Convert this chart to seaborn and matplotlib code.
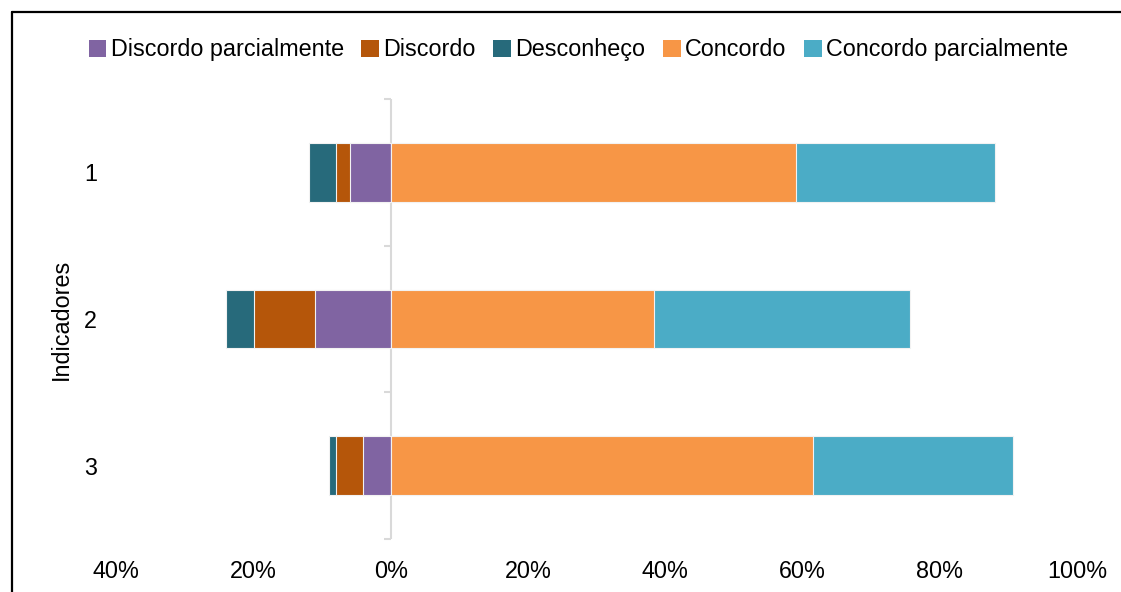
import matplotlib
matplotlib.use("Agg")
import matplotlib.pyplot as plt
from matplotlib.lines import Line2D
from matplotlib.patches import Patch
import seaborn as sns
import pandas as pd

# Survey responses per indicator (percent of respondents)
indicadores = ["1", "2", "3"]
discordo_parcialmente = [6, 11, 4]
discordo = [2, 9, 4]
desconheco = [4, 4, 1]
concordo = [59, 38.3, 61.5]
concordo_parcialmente = [29, 37.3, 29.2]

series_names = ["Discordo parcialmente", "Discordo", "Desconheço",
                "Concordo", "Concordo parcialmente"]
colors = {
    "Discordo parcialmente": "#8064A2",
    "Discordo": "#B5560A",
    "Desconheço": "#276A7B",
    "Concordo": "#F79646",
    "Concordo parcialmente": "#4BACC6",
}
x_ticks = [-40, -20, 0, 20, 40, 60, 80, 100]

sns.set_theme(style="white")
plt.rcParams["font.family"] = ["Liberation Sans", "DejaVu Sans"]
plt.rcParams["text.color"] = "black"
FS = 16.8

df = pd.DataFrame({
    "Indicador": indicadores,
    "dp": discordo_parcialmente,
    "d": discordo,
    "desc": desconheco,
    "c": concordo,
    "cp": concordo_parcialmente,
})
# Cumulative extents so stacked segments can be layered from the outside in
df["neg3"] = -(df["dp"] + df["d"] + df["desc"])
df["neg2"] = -(df["dp"] + df["d"])
df["neg1"] = -df["dp"]
df["pos2"] = df["c"] + df["cp"]
df["pos1"] = df["c"]

fig = plt.figure(figsize=(11.21, 5.92), dpi=100)
ax = fig.add_axes([116.4 / 1121, 53 / 592, 960.6 / 1121, 440 / 592])

layers = [
    ("neg3", "Desconheço"),
    ("neg2", "Discordo"),
    ("neg1", "Discordo parcialmente"),
    ("pos2", "Concordo parcialmente"),
    ("pos1", "Concordo"),
]
for col, name in layers:
    sns.barplot(data=df, x=col, y="Indicador", orient="h", color=colors[name],
                width=0.4, saturation=1, edgecolor="#f2f2f2", linewidth=0.8,
                ax=ax)

ax.set_xlim(-40, 100)
ax.set_ylim(2.5, -0.5)
ax.set_xticks(x_ticks)
ax.set_xticklabels([f"{abs(v)}%" for v in x_ticks], fontsize=FS, color="#000000")
ax.tick_params(axis="x", length=0, pad=15)
ax.tick_params(axis="y", length=0, pad=14, labelsize=FS, labelcolor="#000000")
ax.set_xlabel("")
ax.set_ylabel("Indicadores", fontsize=FS, color="#000000", labelpad=8)
for s in ax.spines.values():
    s.set_visible(False)

# Category axis drawn at zero with small separators between categories
ax.axvline(0, color="#d9d9d9", lw=1.5, zorder=0.5)
ax.hlines([-0.5, 0.5, 1.5, 2.5], -1.05, 0, color="#d9d9d9", lw=1.5,
          zorder=0.5, clip_on=False)

handles = [Patch(facecolor=colors[n], edgecolor="none") for n in series_names]
fig.legend(handles, series_names, loc="center", ncol=5,
           bbox_to_anchor=(0.516, 0.916), frameon=False, fontsize=FS,
           handlelength=0.75, handleheight=0.75, handletextpad=0.2,
           columnspacing=0.75, labelcolor="black")

# Chart frame
fig.add_artist(Line2D([12 / 1121, 12 / 1121], [0, 1 - 12 / 592],
                      transform=fig.transFigure, color="black", lw=1.6))
fig.add_artist(Line2D([12 / 1121, 1], [1 - 12 / 592, 1 - 12 / 592],
                      transform=fig.transFigure, color="black", lw=1.6))

fig.savefig("out.png", dpi=100)
